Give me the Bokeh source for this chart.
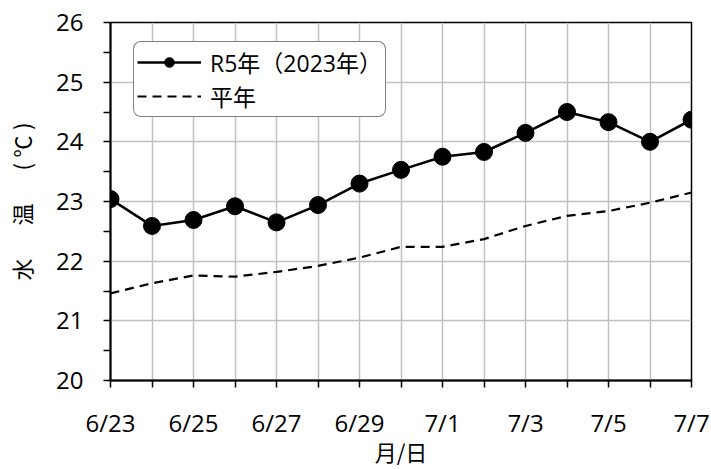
from bokeh.plotting import figure
from bokeh.models import Range1d, FixedTicker, Legend, LegendItem
from bokeh.embed import file_html
from bokeh.resources import INLINE

dates = ["6/23", "6/24", "6/25", "6/26", "6/27", "6/28", "6/29", "6/30",
         "7/1", "7/2", "7/3", "7/4", "7/5", "7/6", "7/7"]
r5 = [23.04, 22.59, 22.69, 22.92, 22.65, 22.94, 23.30, 23.53,
      23.75, 23.83, 24.15, 24.50, 24.33, 24.00, 24.37]
normal = [21.46, 21.63, 21.76, 21.74, 21.82, 21.92, 22.06, 22.24,
          22.24, 22.37, 22.59, 22.76, 22.84, 22.98, 23.15]
y_ticks = [20, 21, 22, 23, 24, 25, 26]

FONT = "'Open Sans', 'Noto Sans CJK JP'"
CJK = "Noto Sans CJK JP"
x = list(range(len(dates)))

p = figure(width=711, height=469, output_backend="svg", toolbar_location=None,
           x_range=Range1d(0, len(dates) - 1), y_range=Range1d(20, 26),
           min_border_left=110, min_border_right=20, min_border_top=22,
           min_border_bottom=88)

p.outline_line_color = "black"
p.outline_line_width = 1.5

p.xgrid.grid_line_color = "#c0c0c0"
p.xgrid.grid_line_width = 1.5
p.ygrid.grid_line_color = "#c0c0c0"
p.ygrid.grid_line_width = 1.5

p.xaxis.ticker = FixedTicker(ticks=x)
p.xaxis.major_label_overrides = {i: (d if i % 2 == 0 else "") for i, d in enumerate(dates)}
p.xaxis.axis_label = "月/日"
p.yaxis.ticker = FixedTicker(ticks=y_ticks, minor_ticks=[v + 0.5 for v in y_ticks[:-1]])
p.yaxis.axis_label = "水\u3000\u2002温\u3000\u2002(\u2005℃\u2005)"

for ax in (p.xaxis[0], p.yaxis[0]):
    ax.axis_line_color = "black"
    ax.axis_line_width = 2
    ax.major_tick_line_color = "black"
    ax.major_tick_line_width = 1.5
    ax.major_tick_in = 0
    ax.major_tick_out = 7
    ax.minor_tick_line_color = "black"
    ax.minor_tick_line_width = 1.5
    ax.minor_tick_in = 0
    ax.minor_tick_out = 7
    ax.major_label_text_font = FONT
    ax.major_label_text_font_size = "24px"
    ax.major_label_text_color = "black"
    ax.axis_label_text_font = CJK
    ax.axis_label_text_font_size = "22px"
    ax.axis_label_text_font_style = "normal"
    ax.axis_label_text_color = "black"

p.xaxis.major_label_standoff = 18
p.xaxis.axis_label_standoff = -7
p.yaxis.major_label_standoff = 20
p.yaxis.axis_label_standoff = 16

r_line = p.line(x, r5, line_color="black", line_width=2.6)
r_pts = p.scatter(x, r5, size=17, fill_color="black", line_color="black")
n_line = p.line(x, normal, line_color="black", line_width=2.2, line_dash="9 6")

legend = Legend(items=[
    LegendItem(label="R5年（2023年）", renderers=[r_line, r_pts]),
    LegendItem(label="平年", renderers=[n_line]),
], location=(23, 263))
legend.label_text_font = FONT
legend.label_text_font_size = "23px"
legend.label_text_color = "black"
legend.border_line_color = "black"
legend.border_line_width = 1
legend.background_fill_color = "white"
legend.background_fill_alpha = 1
legend.glyph_width = 64
legend.glyph_height = 24
legend.label_height = 24
legend.spacing = 0
legend.padding = 3
legend.margin = 0
legend.label_standoff = 9
if hasattr(legend, "border_radius"):
    legend.border_radius = 8
p.add_layout(legend, "center")

open("out.html", "w").write(file_html(p, INLINE))
